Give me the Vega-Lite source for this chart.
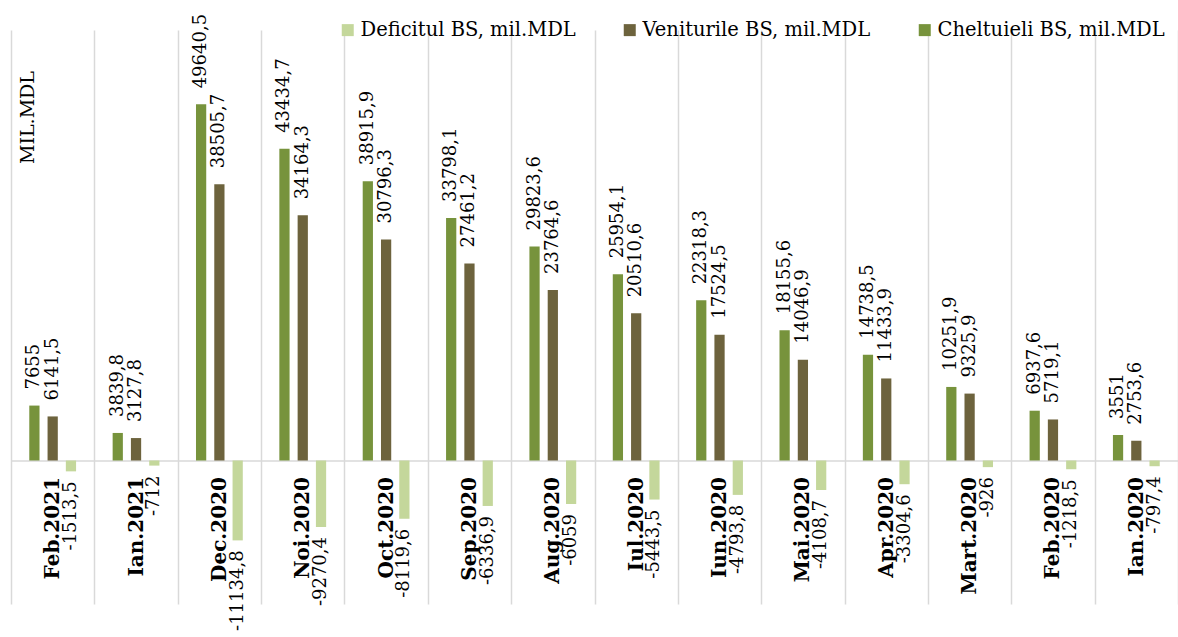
{
  "$schema": "https://vega.github.io/schema/vega-lite/v6.json",
  "width": 1167,
  "height": 574,
  "autosize": {"type": "none"},
  "padding": {"left": 11, "top": 30, "right": 0, "bottom": 33},
  "config": {
    "view": {"stroke": null},
    "font": "DejaVu Serif",
    "locale": {"number": {"decimal": ",", "thousands": "", "grouping": [3], "currency": ["", ""], "minus": "-"}}
  },
  "data": {"values": [
    {"month": "Feb.2021", "series": "Cheltuieli BS, mil.MDL", "value": 7655},
    {"month": "Feb.2021", "series": "Veniturile BS, mil.MDL", "value": 6141.5},
    {"month": "Feb.2021", "series": "Deficitul BS, mil.MDL", "value": -1513.5},
    {"month": "Ian.2021", "series": "Cheltuieli BS, mil.MDL", "value": 3839.8},
    {"month": "Ian.2021", "series": "Veniturile BS, mil.MDL", "value": 3127.8},
    {"month": "Ian.2021", "series": "Deficitul BS, mil.MDL", "value": -712},
    {"month": "Dec.2020", "series": "Cheltuieli BS, mil.MDL", "value": 49640.5},
    {"month": "Dec.2020", "series": "Veniturile BS, mil.MDL", "value": 38505.7},
    {"month": "Dec.2020", "series": "Deficitul BS, mil.MDL", "value": -11134.8},
    {"month": "Noi.2020", "series": "Cheltuieli BS, mil.MDL", "value": 43434.7},
    {"month": "Noi.2020", "series": "Veniturile BS, mil.MDL", "value": 34164.3},
    {"month": "Noi.2020", "series": "Deficitul BS, mil.MDL", "value": -9270.4},
    {"month": "Oct.2020", "series": "Cheltuieli BS, mil.MDL", "value": 38915.9},
    {"month": "Oct.2020", "series": "Veniturile BS, mil.MDL", "value": 30796.3},
    {"month": "Oct.2020", "series": "Deficitul BS, mil.MDL", "value": -8119.6},
    {"month": "Sep.2020", "series": "Cheltuieli BS, mil.MDL", "value": 33798.1},
    {"month": "Sep.2020", "series": "Veniturile BS, mil.MDL", "value": 27461.2},
    {"month": "Sep.2020", "series": "Deficitul BS, mil.MDL", "value": -6336.9},
    {"month": "Aug.2020", "series": "Cheltuieli BS, mil.MDL", "value": 29823.6},
    {"month": "Aug.2020", "series": "Veniturile BS, mil.MDL", "value": 23764.6},
    {"month": "Aug.2020", "series": "Deficitul BS, mil.MDL", "value": -6059},
    {"month": "Iul.2020", "series": "Cheltuieli BS, mil.MDL", "value": 25954.1},
    {"month": "Iul.2020", "series": "Veniturile BS, mil.MDL", "value": 20510.6},
    {"month": "Iul.2020", "series": "Deficitul BS, mil.MDL", "value": -5443.5},
    {"month": "Iun.2020", "series": "Cheltuieli BS, mil.MDL", "value": 22318.3},
    {"month": "Iun.2020", "series": "Veniturile BS, mil.MDL", "value": 17524.5},
    {"month": "Iun.2020", "series": "Deficitul BS, mil.MDL", "value": -4793.8},
    {"month": "Mai.2020", "series": "Cheltuieli BS, mil.MDL", "value": 18155.6},
    {"month": "Mai.2020", "series": "Veniturile BS, mil.MDL", "value": 14046.9},
    {"month": "Mai.2020", "series": "Deficitul BS, mil.MDL", "value": -4108.7},
    {"month": "Apr.2020", "series": "Cheltuieli BS, mil.MDL", "value": 14738.5},
    {"month": "Apr.2020", "series": "Veniturile BS, mil.MDL", "value": 11433.9},
    {"month": "Apr.2020", "series": "Deficitul BS, mil.MDL", "value": -3304.6},
    {"month": "Mart.2020", "series": "Cheltuieli BS, mil.MDL", "value": 10251.9},
    {"month": "Mart.2020", "series": "Veniturile BS, mil.MDL", "value": 9325.9},
    {"month": "Mart.2020", "series": "Deficitul BS, mil.MDL", "value": -926},
    {"month": "Feb.2020", "series": "Cheltuieli BS, mil.MDL", "value": 6937.6},
    {"month": "Feb.2020", "series": "Veniturile BS, mil.MDL", "value": 5719.1},
    {"month": "Feb.2020", "series": "Deficitul BS, mil.MDL", "value": -1218.5},
    {"month": "Ian.2020", "series": "Cheltuieli BS, mil.MDL", "value": 3551},
    {"month": "Ian.2020", "series": "Veniturile BS, mil.MDL", "value": 2753.6},
    {"month": "Ian.2020", "series": "Deficitul BS, mil.MDL", "value": -797.4}
  ]},
  "encoding": {
    "x": {
      "field": "month", "type": "nominal", "sort": null,
      "scale": {"paddingInner": 0, "paddingOuter": 0},
      "axis": {
        "title": null, "orient": "bottom", "offset": -143.5,
        "domainColor": "#d9d9d9", "domainWidth": 1.5,
        "ticks": false, "tickSize": 0, "tickBand": "extent",
        "grid": true, "gridColor": "#d9d9d9", "gridWidth": 1.5,
        "labelAngle": 270, "labelAlign": "right", "labelBaseline": "middle",
        "labelPadding": 16, "labelFont": "DejaVu Serif", "labelFontSize": 20,
        "labelFontWeight": "bold", "labelColor": "#000000", "labelLimit": 0
      }
    },
    "xOffset": {
      "field": "series", "type": "nominal",
      "sort": ["Cheltuieli BS, mil.MDL", "Veniturile BS, mil.MDL", "Deficitul BS, mil.MDL"],
      "scale": {"paddingInner": 0.44, "paddingOuter": 1.19}
    },
    "y": {
      "field": "value", "type": "quantitative",
      "scale": {"domain": [-20000, 60000], "nice": false, "zero": false},
      "axis": {
        "title": "MIL.MDL", "labels": false, "ticks": false, "domain": false, "grid": false,
        "titleAngle": 270, "titleX": 16, "titleY": 87, "titleAlign": "center", "titleBaseline": "middle",
        "titleFont": "DejaVu Serif", "titleFontSize": 19, "titleFontWeight": "normal", "titleColor": "#000000"
      }
    }
  },
  "layer": [
    {
      "mark": {"type": "bar"},
      "encoding": {
        "color": {
          "field": "series", "type": "nominal",
          "scale": {
            "domain": ["Deficitul BS, mil.MDL", "Veniturile BS, mil.MDL", "Cheltuieli BS, mil.MDL"],
            "range": ["#C4D79B", "#6D633D", "#77933C"]
          },
          "legend": {
            "orient": "none", "legendX": 327, "legendY": -10, "direction": "horizontal",
            "title": null, "symbolType": "square", "symbolSize": 144, "symbolStrokeWidth": 0,
            "symbolOpacity": 1, "labelFont": "DejaVu Serif", "labelFontSize": 19.5,
            "labelColor": "#000000", "columnPadding": 44, "labelOffset": 3, "padding": 0, "labelLimit": 400
          }
        }
      }
    },
    {
      "transform": [{"filter": "datum.value >= 0"}],
      "mark": {"type": "text", "angle": 270, "align": "left", "baseline": "middle", "dx": 16, "font": "DejaVu Serif", "fontSize": 18, "color": "#000000"},
      "encoding": {"text": {"field": "value", "type": "quantitative", "format": ".1~f"}}
    },
    {
      "transform": [{"filter": "datum.value < 0"}],
      "mark": {"type": "text", "angle": 270, "align": "right", "baseline": "middle", "dx": -10, "font": "DejaVu Serif", "fontSize": 18, "color": "#000000"},
      "encoding": {"text": {"field": "value", "type": "quantitative", "format": ".1~f"}}
    }
  ]
}
